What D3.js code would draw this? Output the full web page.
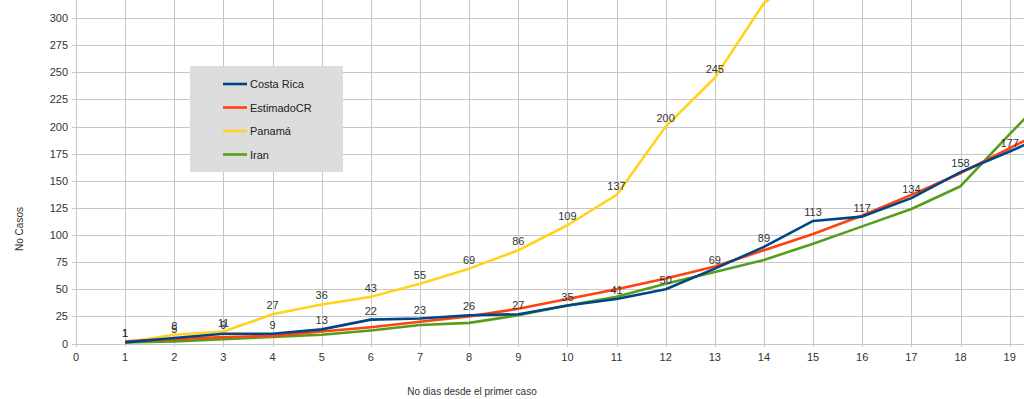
<!DOCTYPE html>
<html>
<head>
<meta charset="utf-8">
<script src="https://cdn.jsdelivr.net/npm/d3@7"></script>
<style>
  html, body { margin: 0; padding: 0; background: #fff; }
  svg { display: block; font-family: "Liberation Sans", Arial, sans-serif; }
</style>
</head>
<body>
<div id="chart"></div>
<script>
// days since first case
const days = d3.range(1, 21);

// series values
const costaRica  = [1, 5, 9, 9, 13, 22, 23, 26, 27, 35, 41, 50, 69, 89, 113, 117, 134, 158, 177, 197];
const estimadoCR = [2, 4, 6, 7, 11, 15, 20, 25, 32, 41, 50, 60, 71, 86, 101, 118, 137, 157, 180, 203];
const panama     = [1, 8, 11, 27, 36, 43, 55, 69, 86, 109, 137, 200, 245, 314, 345];
const iran       = [1, 2, 4, 6, 8, 12, 17, 19, 26, 35, 43, 55, 66, 77, 92, 108, 124, 145, 193, 240];

const xTicks = d3.range(0, 20);
const yTicks = d3.range(0, 325, 25);

const series = [
  { name: "Costa Rica", values: costaRica, color: "#004586", labels: true },
  { name: "EstimadoCR", values: estimadoCR, color: "#ff420e", labels: false },
  { name: "Panamá", values: panama, color: "#ffd320", labels: true },
  { name: "Iran", values: iran, color: "#579d1c", labels: false }
];

const width = 1024, height = 399;
const x0 = 76, unit = 49.14;

const svg = d3.select("#chart").append("svg")
  .attr("width", width)
  .attr("height", height);

const x = d3.scaleLinear().domain([0, 20]).range([x0, x0 + 20 * unit]);
const y = d3.scaleLinear().domain([0, 325]).range([343.5, 343.5 - 325 * 1.0847]);

svg.append("clipPath").attr("id", "plot")
  .append("rect").attr("x", 0).attr("y", 0).attr("width", width).attr("height", 344);

// grid
const grid = svg.append("g");
grid.selectAll("line.h").data(yTicks).join("line")
  .attr("x1", x0 - 4).attr("x2", width)
  .attr("y1", d => Math.round(y(d)) + 0.5).attr("y2", d => Math.round(y(d)) + 0.5)
  .attr("stroke", "#c6c6c6");
grid.selectAll("line.v").data(xTicks).join("line")
  .attr("x1", d => Math.round(x(d)) + 0.5).attr("x2", d => Math.round(x(d)) + 0.5)
  .attr("y1", 0).attr("y2", 347)
  .attr("stroke", "#c6c6c6");

// tick labels
svg.append("g").selectAll("text").data(yTicks).join("text")
  .attr("x", 68).attr("y", d => y(d) + 4)
  .attr("text-anchor", "end")
  .attr("font-size", 11).attr("fill", "#333")
  .text(d => d);

svg.append("g").selectAll("text").data(xTicks).join("text")
  .attr("x", d => x(d)).attr("y", 361)
  .attr("text-anchor", "middle")
  .attr("font-size", 11).attr("fill", "#333")
  .text(d => d);

// axis titles
svg.append("text")
  .attr("transform", "translate(23,229) rotate(-90)")
  .attr("text-anchor", "middle")
  .attr("font-size", 10).attr("fill", "#333")
  .text("No Casos");

svg.append("text")
  .attr("x", 472).attr("y", 395)
  .attr("text-anchor", "middle")
  .attr("font-size", 10).attr("fill", "#333")
  .text("No dias desde el primer caso");

// lines
const line = d3.line()
  .x((d, i) => x(days[i]))
  .y(d => y(d));

const plot = svg.append("g").attr("clip-path", "url(#plot)");

// draw order: Panama, Iran, Estimado, Costa Rica on top
[2, 3, 1, 0].forEach(k => {
  const s = series[k];
  plot.append("path")
    .datum(s.values)
    .attr("fill", "none")
    .attr("stroke", s.color)
    .attr("stroke-width", 2.6)
    .attr("stroke-linejoin", "round")
    .attr("d", line);
});

// data labels (only those that fall inside the visible frame)
series.filter(s => s.labels).forEach(s => {
  const pts = s.values.map((v, i) => ({ v, day: days[i] }))
    .filter(p => x(p.day) < width && y(p.v) - 14 > 0);
  svg.append("g").selectAll("text").data(pts).join("text")
    .attr("x", p => x(p.day))
    .attr("y", p => y(p.v) - 5)
    .attr("text-anchor", "middle")
    .attr("font-size", 11).attr("fill", "#333")
    .text(p => p.v);
});

// legend
const legend = svg.append("g");
legend.append("rect")
  .attr("x", 190).attr("y", 66).attr("width", 153).attr("height", 106)
  .attr("fill", "#dddddd");
series.forEach((s, i) => {
  const ly = 84 + i * 23.5;
  legend.append("line")
    .attr("x1", 223).attr("x2", 247).attr("y1", ly).attr("y2", ly)
    .attr("stroke", s.color).attr("stroke-width", 2.6);
  legend.append("text")
    .attr("x", 250).attr("y", ly + 4)
    .attr("font-size", 11).attr("fill", "#222")
    .text(s.name);
});
</script>
</body>
</html>
